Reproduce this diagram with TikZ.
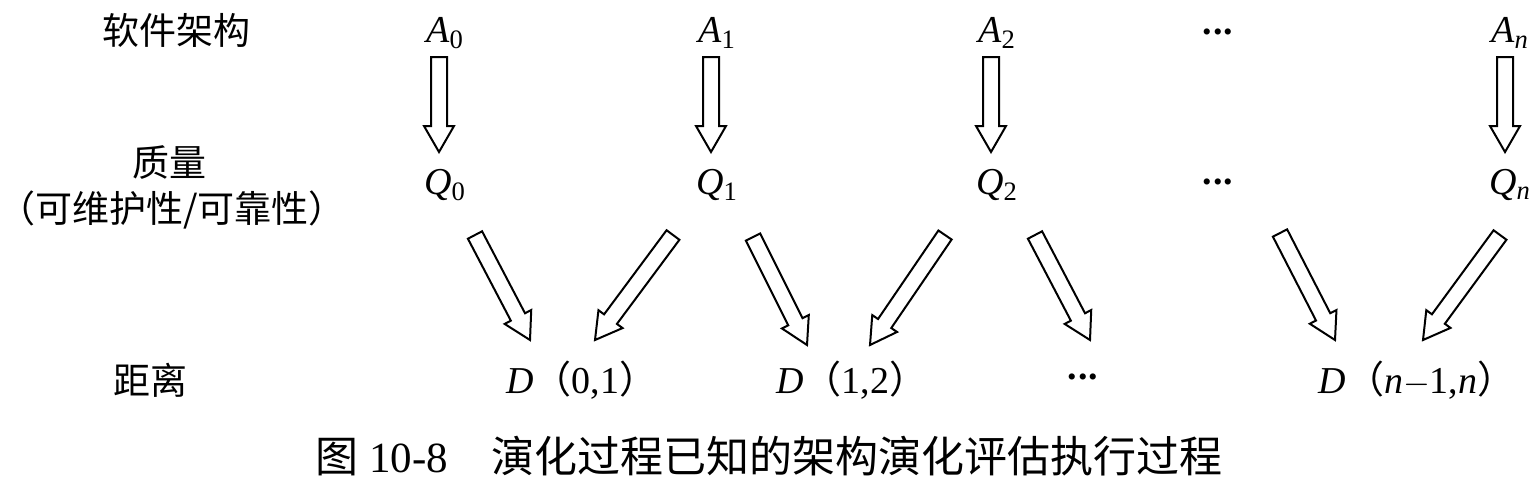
\documentclass[tikz,border=0pt]{standalone}
\usepackage{fontspec}
\setmainfont{Liberation Serif}
\newfontfamily\cjk{Noto Sans CJK SC}
\usetikzlibrary{calc,positioning}
\tikzset{hollow/.style={draw, line width=1pt, fill=white, line join=miter}}
% hollow block arrow between two points
\newcommand\harrow[2]{%
  \coordinate (hs) at #1;
  \coordinate (he) at #2;
  \coordinate (hb) at ($(he)!13pt!(hs)$);
  \draw[hollow] ($(hs)!4pt!90:(he)$) -- ($(hb)!4pt!90:(he)$) -- ($(hb)!7.5pt!90:(he)$) -- (he)
    -- ($(hb)!7.5pt!-90:(he)$) -- ($(hb)!4pt!-90:(he)$) -- ($(hs)!4pt!-90:(he)$) -- cycle;
}
\newcommand\lett[2]{\textit{#1}\textsubscript{#2}}
\newcommand\hdots{\raisebox{.2em}{\textbf{.\kern.5pt.\kern.5pt.}}}

\begin{document}
\begin{tikzpicture}[x = .5pt, y = -.5pt,
  lbl/.style = {font = \cjk\fontsize{18.5}{20}\selectfont},
  sym/.style = {font = \fontsize{19}{22}\selectfont, inner sep = 0pt}]
\useasboundingbox (0,0) rectangle (1540,488);
\node[lbl] (arch) at (176,30) {软件架构};
\node[sym] (a0) at (445,33) {\lett{A}{0}};
\node[sym] (a1) at (717,33) {\lett{A}{1}};
\node[sym] (a2) at (997,33) {\lett{A}{2}};
\node[sym] (adots) at (1218,35) {\hdots};
\node[sym] (an) at (1510,33) {\lett{A}{\itshape n}};
\node[lbl] (qual) at (169,163) {质量};
\node[lbl, inner sep = 0pt] (qualsub) at (172,210) {（可维护性/可靠性）};
\node[sym] (q0) at (445,185) {\lett{Q}{0}};
\node[sym] (q1) at (717,185) {\lett{Q}{1}};
\node[sym] (q2) at (997,185) {\lett{Q}{2}};
\node[sym] (qdots) at (1218,185) {\hdots};
\node[sym] (qn) at (1510,185) {\lett{Q}{\itshape n}};
\node[lbl] (dist) at (150,380) {距离};
\node[sym] (d01) at (582,380) {\textit{D}{\cjk （}0,1{\cjk ）}};
\node[sym] (d12) at (852,380) {\textit{D}{\cjk （}1,2{\cjk ）}};
\node[sym] (ddots) at (1083,380) {\hdots};
\node[sym] (dn) at (1417,380) {\textit{D}{\cjk （}\textit{n}$-$1,\textit{n}{\cjk ）}};
\node[font = \fontsize{21.5}{24}\selectfont] (caption) at (769,456)
  {{\cjk 图} 10-8\hspace{1em}{\cjk 演化过程已知的架构演化评估执行过程}};
\harrow{($(a0)+(-6,24)$)}{($(q0)+(-6,-33)$)}
\harrow{($(a1)+(-6,24)$)}{($(q1)+(-6,-33)$)}
\harrow{($(a2)+(-6,24)$)}{($(q2)+(-6,-33)$)}
\harrow{($(an)+(-5,24)$)}{($(qn)+(-5,-33)$)}
\harrow{($(q0)+(30,50)$)}{($(d01)+(-52,-40)$)}
\harrow{($(q1)+(-44,50)$)}{($(d01)+(13,-40)$)}
\harrow{($(q1)+(36,52)$)}{($(d12)+(-45,-35)$)}
\harrow{($(q2)+(-52,50)$)}{($(d12)+(18,-35)$)}
\harrow{($(q2)+(38,50)$)}{($(ddots)+(7,-40)$)}
\harrow{($(qdots)+(62,48)$)}{($(dn)+(-82,-40)$)}
\harrow{($(qn)+(-10,50)$)}{($(dn)+(6,-40)$)}
\end{tikzpicture}
\end{document}
